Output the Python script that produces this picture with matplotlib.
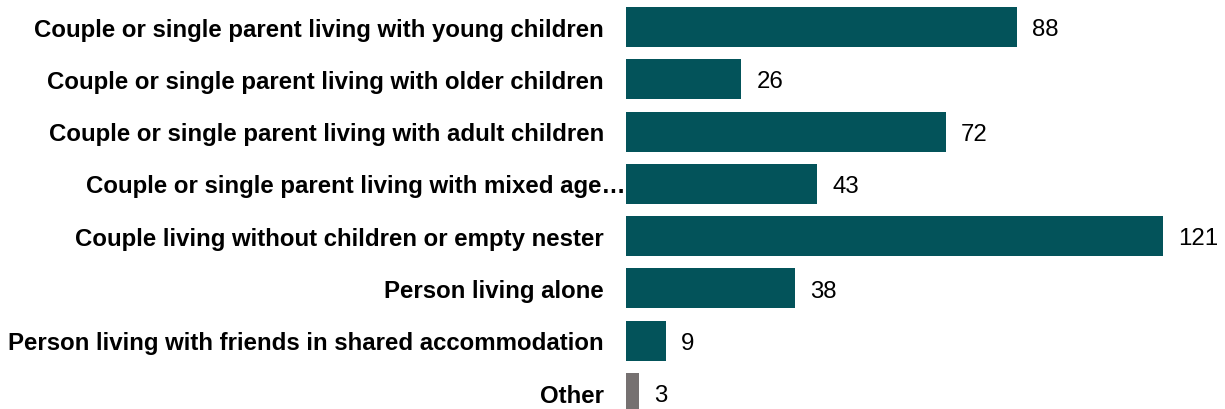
import matplotlib
matplotlib.use("Agg")
from matplotlib import pyplot as plt

categories = [
    "Couple or single parent living with young children",
    "Couple or single parent living with older children",
    "Couple or single parent living with adult children",
    "Couple or single parent living with mixed age\u2026",
    "Couple living without children or empty nester",
    "Person living alone",
    "Person living with friends in shared accommodation",
    "Other",
]
values = [88, 26, 72, 43, 121, 38, 9, 3]
colors = ["#03535a"] * 7 + ["#767171"]

plt.rcParams['font.family'] = ['Liberation Sans', 'DejaVu Sans']

W, H = 1225, 410
fig = plt.figure(figsize=(W / 100, H / 100), dpi=100)
left = 626 / W
ax = fig.add_axes([left, 0, 1 - left, 1])

y = list(range(len(categories)))
ax.barh(y, values, height=0.765, color=colors)
ax.set_xlim(0, (W - 626) / 4.438)
ax.set_ylim(7.306, -0.535)

for yi, v in zip(y, values):
    ax.annotate(str(v), (v, yi), xytext=(11, -1.5), textcoords="offset points",
                va="center", ha="left", fontsize=17.3, color="black")

for yi, c in zip(y, categories):
    # the truncated label runs right up to the bar
    dx = 0 if c.endswith("\u2026") else -16
    ax.annotate(c, (0, yi), xytext=(dx, -1.5), textcoords="offset points",
                va="center", ha="right", fontsize=17.3, fontweight="bold",
                color="black", annotation_clip=False)

ax.axis("off")
fig.savefig("out.png", dpi=100)
